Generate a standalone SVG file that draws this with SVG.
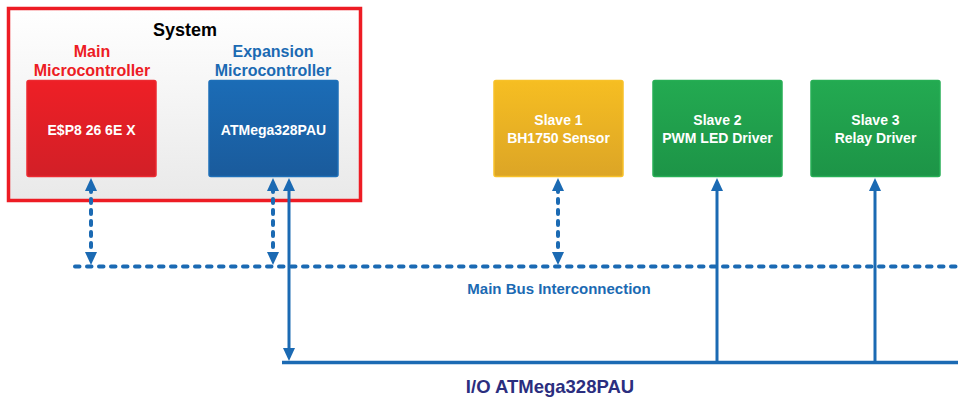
<svg xmlns="http://www.w3.org/2000/svg" width="958" height="400" viewBox="0 0 958 400">
<style>
text{font-family:"Liberation Sans",Arial,sans-serif;font-weight:bold;text-anchor:middle}
.in{fill:#fff;font-size:14px}
.bus{fill:none;stroke:#1b6ab3;stroke-width:3.5}
.dot{stroke-dasharray:4.5 7.5;stroke-linecap:round;stroke-width:4}
.v{fill:none;stroke:#1b6ab3;stroke-width:3}
.vd{stroke-dasharray:4 7;stroke-linecap:round;stroke-width:4}
</style>
<defs>
<linearGradient id="gSys" x1="0" y1="0" x2="0" y2="1"><stop offset="0" stop-color="#ffffff"/><stop offset="1" stop-color="#e9e9e9"/></linearGradient>
<linearGradient id="gRed" x1="0" y1="0" x2="0" y2="1"><stop offset="0" stop-color="#ee1f26"/><stop offset="1" stop-color="#d21f27"/></linearGradient>
<linearGradient id="gBlue" x1="0" y1="0" x2="0" y2="1"><stop offset="0" stop-color="#1b6cb6"/><stop offset="1" stop-color="#1a5b9c"/></linearGradient>
<linearGradient id="gYel" x1="0" y1="0" x2="0" y2="1"><stop offset="0" stop-color="#f6be22"/><stop offset="1" stop-color="#dca526"/></linearGradient>
<linearGradient id="gGrn" x1="0" y1="0" x2="0" y2="1"><stop offset="0" stop-color="#23aa51"/><stop offset="1" stop-color="#1d9447"/></linearGradient>
<marker id="ah" markerUnits="userSpaceOnUse" markerWidth="13" markerHeight="13" refX="3" refY="6.5" orient="auto-start-reverse" viewBox="0 0 13 13">
<path d="M0,0.5 L13,6.5 L0,12.5 Z" fill="#1b6ab3"/>
</marker>
</defs>

<g id="system">
<rect x="8.5" y="8.5" width="352" height="192" fill="url(#gSys)" stroke="#ed1c24" stroke-width="3.5"/>
<text x="185" y="36" font-size="18" fill="#000">System</text>
<text x="92" y="57" font-size="16" fill="#ed1c24">Main</text>
<text x="92" y="76" font-size="16" fill="#ed1c24">Microcontroller</text>
<text x="273" y="57" font-size="16" fill="#1b6ab3">Expansion</text>
<text x="273" y="76" font-size="16" fill="#1b6ab3">Microcontroller</text>
</g>

<g id="esp">
<rect x="27" y="80.5" width="129" height="96" rx="2" fill="url(#gRed)" stroke="#ec2a31" stroke-width="1.5"/>
<text class="in" x="91.5" y="135">E$P8 26 6E X</text>
</g>

<g id="atmega">
<rect x="209" y="80.5" width="129" height="96" rx="2" fill="url(#gBlue)" stroke="#1e6fb8" stroke-width="1.5"/>
<text class="in" x="273.5" y="135">ATMega328PAU</text>
</g>

<g id="slave1">
<rect x="494" y="80.5" width="129" height="96" rx="2" fill="url(#gYel)" stroke="#f7c12a" stroke-width="1.5"/>
<text class="in" x="558.5" y="125">Slave 1</text>
<text class="in" x="558.5" y="143">BH1750 Sensor</text>
</g>

<g id="slave2">
<rect x="653" y="80.5" width="129" height="96" rx="2" fill="url(#gGrn)" stroke="#27ae55" stroke-width="1.5"/>
<text class="in" x="717.5" y="125">Slave 2</text>
<text class="in" x="717.5" y="143">PWM LED Driver</text>
</g>

<g id="slave3">
<rect x="811" y="80.5" width="129" height="96" rx="2" fill="url(#gGrn)" stroke="#27ae55" stroke-width="1.5"/>
<text class="in" x="875.5" y="125">Slave 3</text>
<text class="in" x="875.5" y="143">Relay Driver</text>
</g>

<g id="connectors">
<line class="bus dot" x1="75" y1="266.5" x2="958" y2="266.5"/>
<line class="bus" x1="282" y1="362.5" x2="958" y2="362.5"/>
<line class="v vd" x1="91" y1="188" x2="91" y2="255" marker-start="url(#ah)" marker-end="url(#ah)"/>
<line class="v vd" x1="273" y1="188" x2="273" y2="255" marker-start="url(#ah)" marker-end="url(#ah)"/>
<line class="v vd" x1="558" y1="188" x2="558" y2="255" marker-start="url(#ah)" marker-end="url(#ah)"/>
<line class="v" x1="289" y1="188" x2="289" y2="351" marker-start="url(#ah)" marker-end="url(#ah)"/>
<line class="v" x1="717" y1="362" x2="717" y2="188" marker-end="url(#ah)"/>
<line class="v" x1="875" y1="362" x2="875" y2="188" marker-end="url(#ah)"/>
</g>

<g id="labels">
<text x="559" y="294" font-size="15" fill="#1b6ab3">Main Bus Interconnection</text>
<text x="550" y="393" font-size="18.5" fill="#2b2e7f">I/O ATMega328PAU</text>
</g>
</svg>
